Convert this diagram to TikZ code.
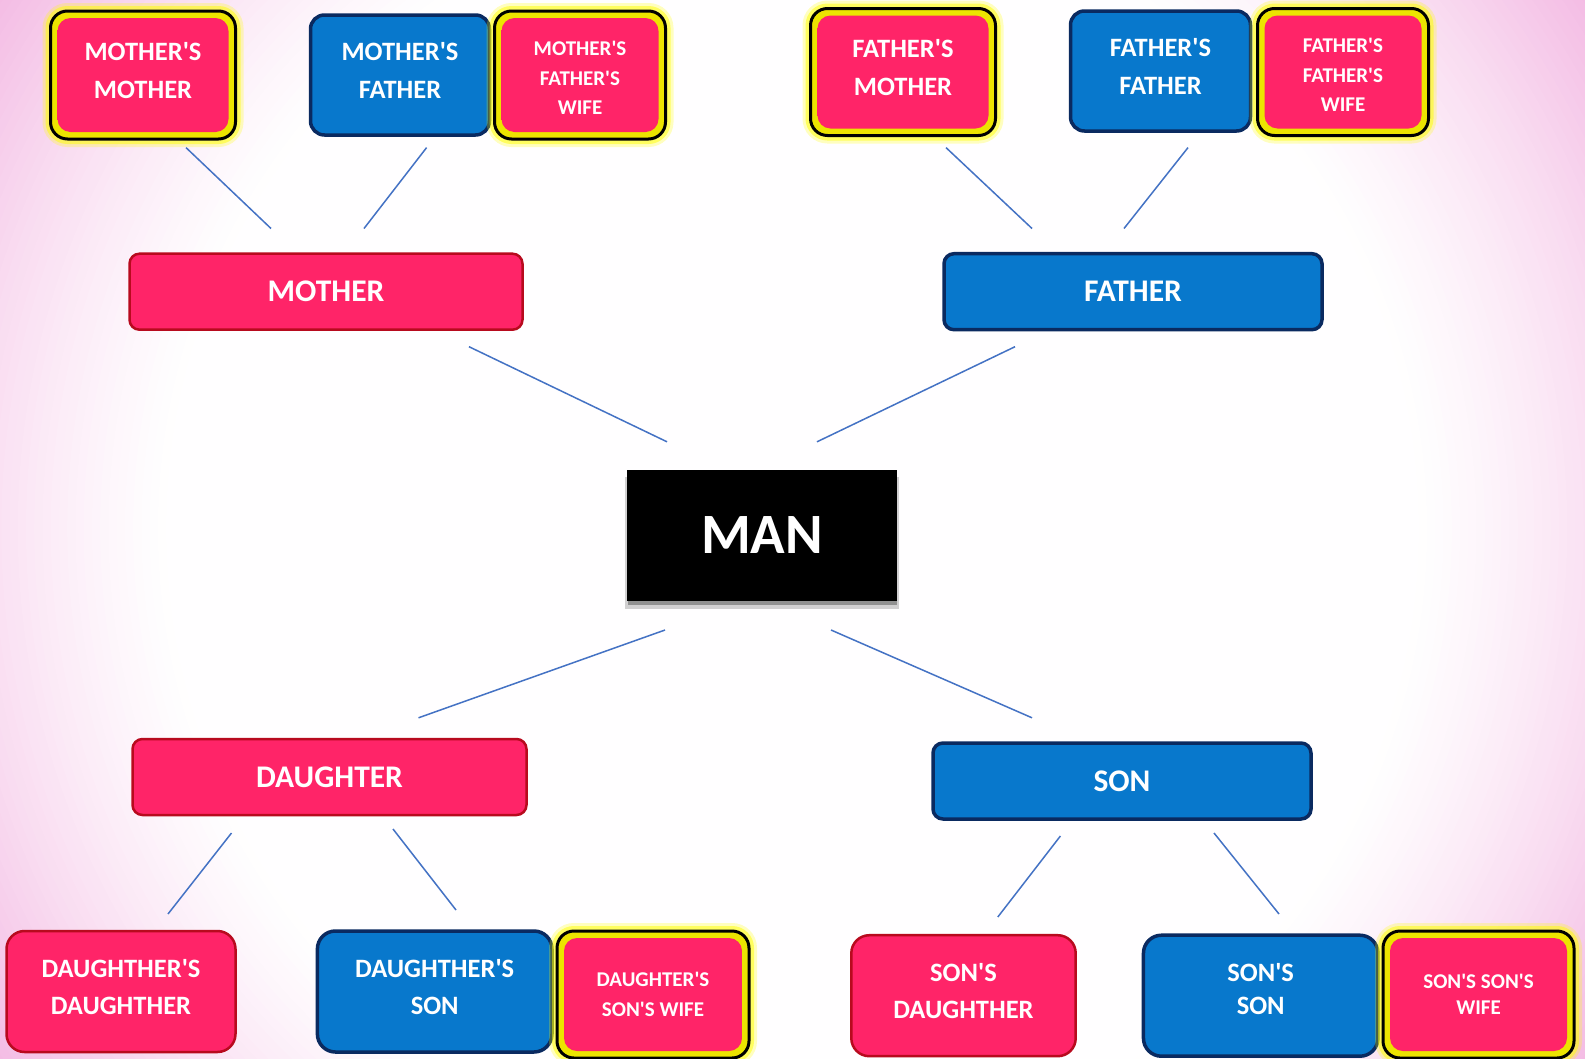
\documentclass[tikz,border=0pt]{standalone}
\usepackage{fontspec}
\setmainfont{Carlito}
\usetikzlibrary{shadows}
\definecolor{pinkmain}{HTML}{FF2468}
\definecolor{pinklight}{HTML}{FF80A8}
\definecolor{pinkdark}{HTML}{B80A1E}
\definecolor{pinkdeep}{HTML}{9A0C28}
\definecolor{bluemain}{HTML}{0878CC}
\definecolor{bluelight}{HTML}{50B4F4}
\definecolor{bluedark}{HTML}{0A2A60}
\definecolor{bluedeep}{HTML}{0A4A8C}
\definecolor{bandyel}{HTML}{ECE400}
\definecolor{glowyel}{HTML}{FFFF00}
\definecolor{linkblue}{HTML}{4472C4}
\definecolor{bgC}{HTML}{F0A8DC}
\definecolor{mangrey}{HTML}{505050}
\pgfdeclareverticalshading{pinkbev}{100bp}{color(0bp)=(pinkdeep); color(9bp)=(pinkmain); color(84bp)=(pinkmain); color(92bp)=(pinklight); color(100bp)=(pinkmain)}
\pgfdeclareverticalshading{bluebev}{100bp}{color(0bp)=(bluedeep); color(9bp)=(bluemain); color(84bp)=(bluemain); color(92bp)=(bluelight); color(100bp)=(bluemain)}
\pgfdeclareverticalshading{manbev}{100bp}{color(0bp)=(black); color(92bp)=(black); color(96bp)=(mangrey); color(100bp)=(black)}
\newcommand{\aps}{\textquotesingle}
\newcommand{\dnstrut}{\rule[-9pt]{0pt}{9pt}}
\newcommand{\dnstrutb}{\rule[-14pt]{0pt}{14pt}}
\newcommand{\upstrut}{\rule{0pt}{20pt}}
\tikzset{
  boxbase/.style={align=center, inner sep=0pt, text=white},
  pinkbox/.style={boxbase, rounded corners=14pt, shading=pinkbev, draw=pinkdark, line width=2.5pt},
  bluebox/.style={boxbase, rounded corners=14pt, shading=bluebev, draw=bluedark, line width=3.5pt},
  pinkin/.style={boxbase, rounded corners=13pt, shading=pinkbev},
  framebox/.style={rounded corners=17pt, draw=black, line width=3pt, fill=bandyel,
    preaction={draw=glowyel, line width=16pt, opacity=0.25},
    preaction={draw=glowyel, line width=10pt, opacity=0.5}},
  manbox/.style={boxbase, shading=manbev, draw=black, line width=1pt,
    drop shadow={shadow xshift=0pt, shadow yshift=-8pt, shadow scale=1.02, opacity=0.18, fill=black},
    drop shadow={shadow xshift=0pt, shadow yshift=-5pt, opacity=0.3, fill=black}},
  fbig/.style={font=\bfseries\fontsize{26.5}{37.4}\selectfont},
  fsmall/.style={font=\bfseries\fontsize{21}{29.8}\selectfont},
  frow/.style={font=\bfseries\fontsize{31.5}{38}\selectfont},
  fman/.style={font=\bfseries\fontsize{57}{62}\selectfont},
  link/.style={draw=linkblue, line width=1.5pt}
}
\begin{document}
\begin{tikzpicture}[x=1pt, y=-1pt]
\useasboundingbox (0,0) rectangle (1585,1058);
\begin{scope}
\clip (0,0) rectangle (1585,1058);
\fill[bgC] (0,0) rectangle (1585,1058);
\foreach \k in {0,...,49}{
  \pgfmathsetmacro{\rr}{1.3-\k*0.52/50}
  \pgfmathsetmacro{\qq}{(\rr-0.78)/0.52}
  \pgfmathsetmacro{\pf}{100*(\qq^1.3)}
  \fill[bgC!\pf!white] (792.5,529) ellipse [x radius=\rr*792.5, y radius=\rr*800];
}
\end{scope}

% top row
\node[framebox, minimum width=185pt, minimum height=128pt] (mmF) at (143,75) {};
\node[pinkin, fbig, minimum width=171pt, minimum height=114pt] (mm) at (143,75) {MOTHER\aps S\\MOTHER\dnstrut};
\node[bluebox, fbig, minimum width=179pt, minimum height=120pt] (mf) at (400,75) {MOTHER\aps S\\FATHER\dnstrut};
\node[framebox, minimum width=171pt, minimum height=128pt] (mfwF) at (580,75) {};
\node[pinkin, fsmall, minimum width=157pt, minimum height=114pt] (mfw) at (580,75) {\upstrut MOTHER\aps S\\FATHER\aps S\\WIFE};

\node[framebox, minimum width=185pt, minimum height=127pt] (fmF) at (903,72) {};
\node[pinkin, fbig, minimum width=171pt, minimum height=113pt] (fm) at (903,72) {FATHER\aps S\\MOTHER\dnstrut};
\node[bluebox, fbig, minimum width=180pt, minimum height=120pt] (ff) at (1160.5,71) {FATHER\aps S\\FATHER\dnstrut};
\node[framebox, minimum width=171pt, minimum height=127pt] (ffwF) at (1343,72) {};
\node[pinkin, fsmall, minimum width=157pt, minimum height=113pt] (ffw) at (1343,72) {\upstrut FATHER\aps S\\FATHER\aps S\\WIFE};

% second row
\node[pinkbox, frow, rounded corners=10pt, minimum width=393pt, minimum height=76pt] (mother) at (326,291.7) {MOTHER};
\node[bluebox, frow, rounded corners=10pt, minimum width=378pt, minimum height=76pt] (father) at (1133,291.7) {FATHER};

% centre
\node[manbox, fman, minimum width=269pt, minimum height=130pt] (man) at (762,535) {MAN};

% children
\node[pinkbox, frow, rounded corners=10pt, minimum width=394pt, minimum height=76pt] (daughter) at (329.5,777) {DAUGHTER};
\node[bluebox, frow, rounded corners=10pt, minimum width=378pt, minimum height=76pt] (son) at (1122,781) {SON};

% bottom row
\node[pinkbox, fbig, rounded corners=18pt, minimum width=229pt, minimum height=121pt] (dd) at (121,991.5) {DAUGHTHER\aps S\\DAUGHTHER\dnstrut};
\node[bluebox, fbig, rounded corners=18pt, minimum width=234.6pt, minimum height=121pt] (ds) at (434.7,991.5) {DAUGHTHER\aps S\\SON\dnstrut};
\node[framebox, minimum width=192pt, minimum height=127pt] (dsswF) at (653,994.5) {};
\node[pinkin, fsmall, minimum width=178pt, minimum height=113pt] (dssw) at (653,994.5) {DAUGHTER\aps S\\SON\aps S WIFE};
\node[pinkbox, fbig, rounded corners=18pt, minimum width=224.4pt, minimum height=121pt] (sd) at (963.5,995.7) {SON\aps S\\DAUGHTHER\dnstrut};
\node[bluebox, fbig, rounded corners=18pt, minimum width=234.5pt, minimum height=121pt, font=\bfseries\fontsize{26.5}{32.6}\selectfont] (ss) at (1260.7,995.7) {SON\aps S\\SON\dnstrutb};
\node[framebox, minimum width=191pt, minimum height=127pt] (ssswF) at (1478.5,994.5) {};
\node[pinkin, fsmall, minimum width=177pt, minimum height=113pt, font=\bfseries\fontsize{21}{26.3}\selectfont] (sssw) at (1478.5,994.5) {SON\aps S SON\aps S\\WIFE};

% connector end points
\coordinate (a1) at (186,147.6);   \coordinate (b1) at (271,228.5);
\coordinate (a2) at (426.6,147.6); \coordinate (b2) at (364,228.5);
\coordinate (a3) at (946,147.6);   \coordinate (b3) at (1032,228.5);
\coordinate (a4) at (1188,147.6);  \coordinate (b4) at (1124,228.5);
\coordinate (a5) at (469,346.7);   \coordinate (b5) at (667,441.8);
\coordinate (a6) at (1015,346.7);  \coordinate (b6) at (817,441.8);
\coordinate (a7) at (665,630);     \coordinate (b7) at (418.5,717.8);
\coordinate (a8) at (831,630);     \coordinate (b8) at (1032,717.8);
\coordinate (a9) at (231.5,833);   \coordinate (b9) at (168,914);
\coordinate (a10) at (393,829);    \coordinate (b10) at (456,910);
\coordinate (a11) at (1060.4,836); \coordinate (b11) at (997.8,917);
\coordinate (a12) at (1214,833);   \coordinate (b12) at (1279,914);
\foreach \i in {1,...,12} { \draw[link] (a\i) -- (b\i); }
\end{tikzpicture}
\end{document}
